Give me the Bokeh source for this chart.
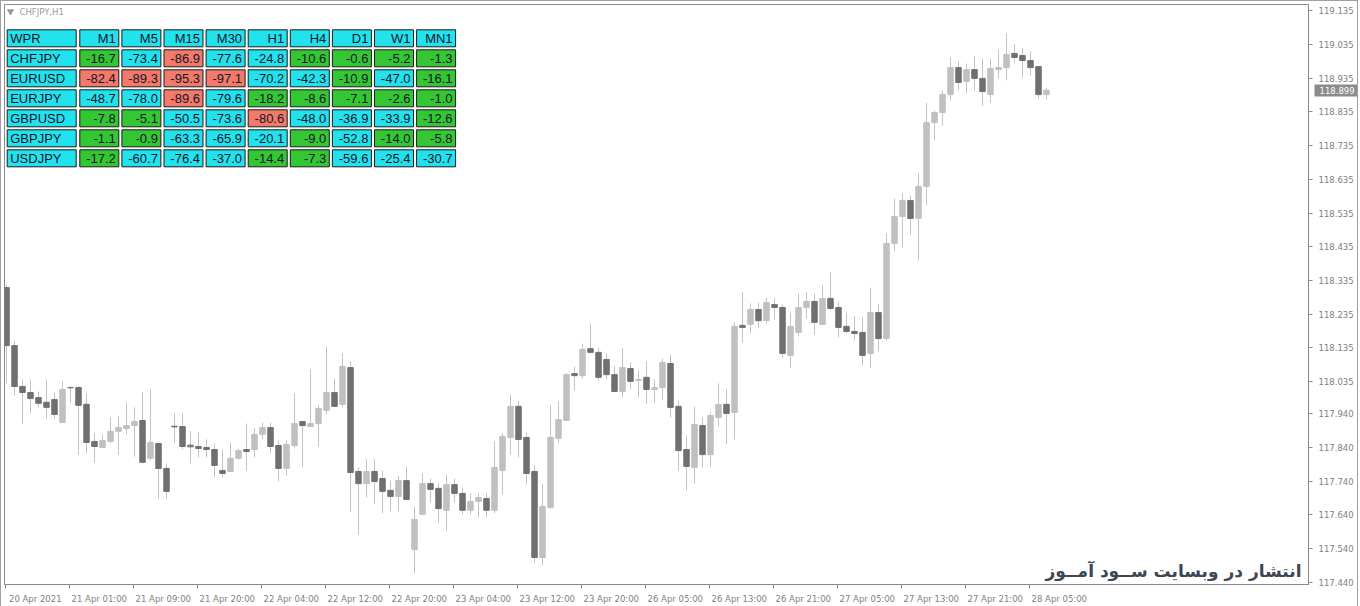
from bokeh.plotting import figure
from bokeh.models import FixedTicker, LinearAxis, ColumnDataSource, NumeralTickFormatter
from bokeh.core.properties import value
from bokeh.embed import file_html
from bokeh.resources import INLINE

# ---------------- data ----------------
symbol = "CHFJPY,H1"

opens = [118.314, 118.142, 118.021, 118.003, 117.988, 117.974, 117.982, 117.914, 118.018, 118.018,
         117.968, 117.858, 117.840, 117.858, 117.888, 117.896, 117.905, 117.920, 117.808, 117.852,
         117.778, 117.903, 117.902, 117.847, 117.843, 117.840, 117.834, 117.772, 117.769, 117.808,
         117.834, 117.834, 117.879, 117.899, 117.846, 117.778, 117.846, 117.917, 117.902, 117.911,
         117.950, 118.003, 117.968, 118.077, 117.769, 117.733, 117.769, 117.748, 117.713, 117.695,
         117.742, 117.538, 117.642, 117.733, 117.719, 117.654, 117.730, 117.704, 117.654, 117.680,
         117.689, 117.654, 117.772, 117.870, 117.962, 117.870, 117.769, 117.514, 117.662, 117.867,
         117.920, 118.059, 118.053, 118.133, 118.122, 118.101, 118.056, 118.006, 118.074, 118.039,
         118.048, 118.012, 118.018, 118.089, 117.962, 117.834, 117.781, 117.905, 117.819, 117.929,
         117.968, 117.944, 118.202, 118.205, 118.249, 118.216, 118.264, 118.255, 118.113, 118.181,
         118.255, 118.273, 118.205, 118.282, 118.255, 118.199, 118.184, 118.181, 118.119, 118.240,
         118.163, 118.445, 118.525, 118.572, 118.519, 118.614, 118.803, 118.833, 118.886, 118.966,
         118.925, 118.960, 118.934, 118.886, 118.960, 118.966, 119.008, 119.002, 118.987, 118.969,
         118.886]
highs = [118.323, 118.157, 118.042, 118.042, 118.006, 118.042, 118.003, 118.036, 118.021, 118.021,
         118.000, 117.882, 117.879, 117.929, 117.932, 117.974, 117.959, 118.003, 118.012, 117.852,
         117.793, 117.941, 117.941, 117.888, 117.885, 117.864, 117.852, 117.834, 117.855, 117.837,
         117.911, 117.899, 117.914, 117.914, 117.861, 117.861, 118.000, 117.917, 118.071, 117.965,
         118.139, 118.045, 118.119, 118.095, 117.781, 117.805, 117.805, 117.772, 117.742, 117.757,
         117.784, 117.665, 117.763, 117.748, 117.733, 117.760, 117.748, 117.719, 117.704, 117.704,
         117.704, 117.858, 117.882, 117.997, 117.979, 117.885, 117.787, 117.733, 117.965, 117.976,
         118.062, 118.080, 118.148, 118.208, 118.136, 118.119, 118.083, 118.136, 118.092, 118.068,
         118.095, 118.042, 118.104, 118.116, 117.979, 117.876, 117.962, 117.929, 117.944, 118.030,
         118.012, 118.211, 118.302, 118.267, 118.270, 118.285, 118.282, 118.264, 118.240, 118.296,
         118.302, 118.296, 118.320, 118.359, 118.270, 118.240, 118.231, 118.225, 118.314, 118.264,
         118.474, 118.578, 118.593, 118.587, 118.652, 118.862, 118.839, 118.898, 118.996, 118.984,
         118.978, 118.999, 118.993, 118.993, 119.019, 119.067, 119.037, 119.025, 119.014, 118.969,
         118.907]
lows = [118.030, 117.994, 117.911, 117.941, 117.959, 117.926, 117.926, 117.914, 117.971, 117.819,
        117.822, 117.796, 117.840, 117.852, 117.819, 117.879, 117.813, 117.793, 117.802, 117.689,
        117.689, 117.852, 117.834, 117.793, 117.810, 117.810, 117.751, 117.751, 117.769, 117.805,
        117.772, 117.810, 117.864, 117.822, 117.739, 117.757, 117.837, 117.781, 117.902, 117.843,
        117.938, 117.962, 117.959, 117.648, 117.582, 117.692, 117.674, 117.645, 117.651, 117.651,
        117.686, 117.467, 117.639, 117.677, 117.618, 117.594, 117.677, 117.642, 117.642, 117.633,
        117.633, 117.645, 117.701, 117.819, 117.810, 117.730, 117.499, 117.491, 117.659, 117.852,
        117.920, 118.009, 118.045, 118.119, 118.039, 118.042, 118.006, 117.988, 118.012, 117.988,
        117.968, 117.971, 117.982, 117.929, 117.772, 117.713, 117.733, 117.781, 117.784, 117.902,
        117.849, 117.864, 118.151, 118.178, 118.193, 118.208, 118.219, 118.107, 118.077, 118.169,
        118.222, 118.175, 118.205, 118.249, 118.166, 118.178, 118.157, 118.083, 118.077, 118.125,
        118.157, 118.421, 118.433, 118.471, 118.394, 118.557, 118.750, 118.794, 118.868, 118.898,
        118.889, 118.898, 118.853, 118.862, 118.934, 118.928, 118.978, 118.936, 118.942, 118.874,
        118.871]
closes = [118.142, 118.021, 118.003, 117.985, 117.971, 117.959, 117.938, 118.012, 118.017, 117.965,
          117.855, 117.843, 117.861, 117.888, 117.899, 117.905, 117.917, 117.796, 117.855, 117.778,
          117.710, 117.901, 117.843, 117.842, 117.837, 117.834, 117.787, 117.763, 117.808, 117.831,
          117.828, 117.879, 117.899, 117.843, 117.778, 117.849, 117.911, 117.905, 117.911, 117.956,
          118.003, 117.962, 118.080, 117.766, 117.733, 117.769, 117.739, 117.710, 117.695, 117.742,
          117.686, 117.627, 117.733, 117.716, 117.659, 117.730, 117.704, 117.654, 117.680, 117.692,
          117.654, 117.781, 117.873, 117.962, 117.864, 117.763, 117.514, 117.665, 117.870, 117.923,
          118.056, 118.053, 118.131, 118.122, 118.048, 118.056, 118.006, 118.077, 118.036, 118.042,
          118.012, 118.018, 118.092, 117.959, 117.831, 117.784, 117.908, 117.819, 117.935, 117.968,
          117.941, 118.199, 118.196, 118.249, 118.216, 118.270, 118.255, 118.119, 118.199, 118.255,
          118.273, 118.211, 118.282, 118.252, 118.196, 118.184, 118.178, 118.113, 118.240, 118.163,
          118.445, 118.525, 118.572, 118.519, 118.614, 118.803, 118.833, 118.886, 118.966, 118.922,
          118.960, 118.934, 118.895, 118.963, 118.966, 119.005, 118.996, 118.987, 118.966, 118.886,
          118.899]

x_tick_labels = ["20 Apr 2021", "21 Apr 01:00", "21 Apr 09:00", "21 Apr 20:00", "22 Apr 04:00",
                 "22 Apr 12:00", "22 Apr 20:00", "23 Apr 04:00", "23 Apr 12:00", "23 Apr 20:00",
                 "26 Apr 05:00", "26 Apr 13:00", "26 Apr 21:00", "27 Apr 05:00", "27 Apr 13:00",
                 "27 Apr 21:00", "28 Apr 05:00"]
x_tick_every = 8

price_ticks = [117.440, 117.540, 117.640, 117.740, 117.840, 117.940, 118.035, 118.135, 118.235,
               118.335, 118.435, 118.535, 118.635, 118.735, 118.835, 118.935, 119.035, 119.135]
price_tick_labels = ["117.440", "117.540", "117.640", "117.740", "117.840", "117.940", "118.035",
                     "118.135", "118.235", "118.335", "118.435", "118.535", "118.635", "118.735",
                     "118.835", "118.935", "119.035", "119.135"]
last_price = 118.899

wpr_title = "WPR"
wpr_timeframes = ["M1", "M5", "M15", "M30", "H1", "H4", "D1", "W1", "MN1"]
wpr_pairs = ["CHFJPY", "EURUSD", "EURJPY", "GBPUSD", "GBPJPY", "USDJPY"]
wpr_chfjpy = [-16.7, -73.4, -86.9, -77.6, -24.8, -10.6, -0.6, -5.2, -1.3]
wpr_eurusd = [-82.4, -89.3, -95.3, -97.1, -70.2, -42.3, -10.9, -47.0, -16.1]
wpr_eurjpy = [-48.7, -78.0, -89.6, -79.6, -18.2, -8.6, -7.1, -2.6, -1.0]
wpr_gbpusd = [-7.8, -5.1, -50.5, -73.6, -80.6, -48.0, -36.9, -33.9, -12.6]
wpr_gbpjpy = [-1.1, -0.9, -63.3, -65.9, -20.1, -9.0, -52.8, -14.0, -5.8]
wpr_usdjpy = [-17.2, -60.7, -76.4, -37.0, -14.4, -7.3, -59.6, -25.4, -30.7]

watermark = "انتشار در وبسایت ســود آمــوز"

# ---------------- layout ----------------
FW, FH = 1304, 580
X0 = -0.25
X1 = X0 + FW / 8.0
Y0, Y1 = 117.434, 119.153


def px_x(px):
    return X0 + px / FW * (X1 - X0)


def px_y(py):
    return Y1 - py / FH * (Y1 - Y0)


p = figure(frame_width=FW, frame_height=FH, x_range=(X0, X1), y_range=(Y0, Y1),
           output_backend="svg", toolbar_location=None, y_axis_location="right",
           min_border_left=3, min_border_top=3, min_border_right=0, min_border_bottom=0,
           background_fill_color="white", border_fill_color="white")
p.styles = {"border": "1px solid #a0a0a0"}
p.xgrid.visible = False
p.ygrid.visible = False
p.outline_line_color = "#8a8a8a"
p.outline_line_width = 1

# ---------------- candles ----------------
n = len(opens)
bull = [c > o for o, c in zip(opens, closes)]
src = ColumnDataSource(dict(
    x=list(range(n)), h=highs, l=lows,
    top=[max(o, c) for o, c in zip(opens, closes)],
    bottom=[min(o, c) for o, c in zip(opens, closes)],
    col=["#c0c0c0" if b else "#707070" for b in bull],
))
p.segment(x0="x", y0="h", x1="x", y1="l", source=src, line_color="#c4c4c4", line_width=1)
p.vbar(x="x", top="top", bottom="bottom", width=0.68, source=src,
       fill_color="col", line_color="col", line_width=1)

# ---------------- axes ----------------
label_off = 3.6
tick_pos = [i * x_tick_every for i in range(len(x_tick_labels))]
label_pos = [t + label_off for t in tick_pos]
p.xaxis.ticker = FixedTicker(ticks=label_pos, minor_ticks=[t - 0.15 for t in tick_pos])
p.xaxis.major_label_overrides = {lp: lab for lp, lab in zip(label_pos, x_tick_labels)}
p.xaxis.major_tick_line_color = None
p.xaxis.minor_tick_line_color = "#8a8a8a"
p.xaxis.minor_tick_out = 4
p.xaxis.minor_tick_in = 0
p.xaxis.axis_line_color = "#8a8a8a"
p.xaxis.major_label_standoff = 3
p.xaxis.major_label_text_font = "DejaVu Sans"
p.xaxis.major_label_text_font_size = "8.5px"
p.xaxis.major_label_text_color = "#808080"

yax = p.yaxis[0]
yax.ticker = FixedTicker(ticks=price_ticks, minor_ticks=[])
yax.major_label_overrides = {t: s for t, s in zip(price_ticks, price_tick_labels)}
yax.axis_line_color = "#8a8a8a"
yax.major_tick_line_color = "#8a8a8a"
yax.major_tick_out = 4
yax.major_tick_in = 0
yax.minor_tick_line_color = None
yax.major_label_standoff = 6
yax.major_label_text_font = "DejaVu Sans"
yax.major_label_text_font_size = "8.5px"
yax.major_label_text_color = "#808080"

# current price marker on the price scale: a second axis with one thick tick as the box
price_axis = LinearAxis(ticker=FixedTicker(ticks=[last_price], minor_ticks=[]),
                        formatter=NumeralTickFormatter(format="0.000"))
price_axis.axis_line_color = None
price_axis.minor_tick_line_color = None
price_axis.major_tick_line_color = "#8c8c8c"
price_axis.major_tick_line_width = 12
price_axis.major_tick_in = 42
price_axis.major_tick_out = 2
price_axis.major_label_standoff = -39
price_axis.major_label_text_font = "DejaVu Sans"
price_axis.major_label_text_font_size = "8.5px"
price_axis.major_label_text_color = "white"
p.add_layout(price_axis, "right")

# ---------------- chart title ----------------
p.scatter(x=[px_x(6)], y=[px_y(7)], marker="inverted_triangle", size=6,
          fill_color="#9a9a9a", line_color="#9a9a9a")
p.text(x=[px_x(15)], y=[px_y(7)], text=[symbol], text_font=value("DejaVu Sans"),
       text_font_size="8.5px", text_color="#9a9a9a", text_baseline="middle", text_align="left")

# ---------------- WPR table ----------------
def wpr_color(v):
    if v > -20:
        return "#34c734"
    if v < -80:
        return "#f27a6a"
    return "#22e2ee"


rows = [wpr_chfjpy, wpr_eurusd, wpr_eurjpy, wpr_gbpusd, wpr_gbpjpy, wpr_usdjpy]
T_LEFT, T_TOP = 2.7, 25.3
COL0_W, COL_W, COL_PITCH, COL_START = 69, 39, 42.1, 75.3
ROW_H, ROW_PITCH = 17, 20

cl, cr, ct, cb, cf = [], [], [], [], []
ltx, lty, ltt = [], [], []
rtx, rty, rtt = [], [], []


def add_cell(left, top, width, fill):
    cl.append(px_x(left)); cr.append(px_x(left + width))
    ct.append(px_y(top)); cb.append(px_y(top + ROW_H)); cf.append(fill)


for r in range(len(rows) + 1):
    top = T_TOP + r * ROW_PITCH
    add_cell(T_LEFT, top, COL0_W, "#22e2ee")
    ltx.append(px_x(T_LEFT + 3)); lty.append(px_y(top + ROW_H / 2 + 0.5))
    ltt.append(wpr_title if r == 0 else wpr_pairs[r - 1])
    for j in range(len(wpr_timeframes)):
        left = COL_START + j * COL_PITCH
        if r == 0:
            fill, txt = "#22e2ee", wpr_timeframes[j]
        else:
            v = rows[r - 1][j]
            fill, txt = wpr_color(v), f"{v:.1f}"
        add_cell(left, top, COL_W, fill)
        rtx.append(px_x(left + COL_W - 3)); rty.append(px_y(top + ROW_H / 2 + 0.5)); rtt.append(txt)

p.quad(left=cl, right=cr, top=ct, bottom=cb, fill_color=cf, line_color="#1a1a1a", line_width=1)
p.text(x=ltx, y=lty, text=ltt, text_font=value("Liberation Sans"), text_font_size="13px",
       text_color="#141428", text_align="left", text_baseline="middle")
p.text(x=rtx, y=rty, text=rtt, text_font=value("Liberation Sans"), text_font_size="13px",
       text_color="#141428", text_align="right", text_baseline="middle")

# ---------------- watermark ----------------
p.text(x=[px_x(FW - 7)], y=[px_y(FH - 14)], text=[watermark], text_font=value("DejaVu Sans"),
       text_font_style="bold", text_font_size="17px", text_color="#3c4654",
       text_align="right", text_baseline="middle")

open("out.html", "w").write(file_html(p, INLINE))
